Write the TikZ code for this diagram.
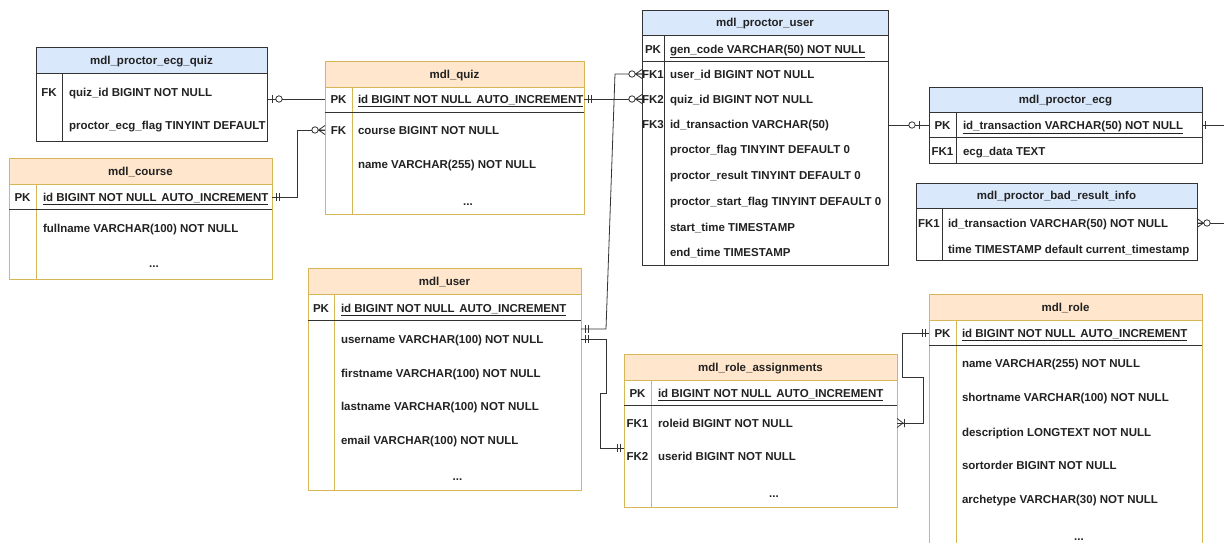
\documentclass[tikz,border=0pt]{standalone}
\usepackage{fontspec}
\setmainfont{Liberation Sans}
\definecolor{obd}{HTML}{D6B656}
\definecolor{ofill}{HTML}{FFE6CC}
\definecolor{bfill}{HTML}{DAE8FC}
\definecolor{bbd}{HTML}{333333}
\definecolor{ink}{HTML}{222222}
\definecolor{wire}{HTML}{333333}
\newcommand{\pkf}[1]{\underline{#1}}
\newcommand{\autoid}{\pkf{id BIGINT NOT NULL\hspace{0.4em}AUTO\_INCREMENT}}
\begin{document}
\begin{tikzpicture}[x=1pt,y=-1pt]
\tikzset{
  every node/.style={font=\fontsize{11.5}{13}\selectfont\bfseries, text=ink, inner sep=0pt, outer sep=0pt},
  txt/.style={text height=8.2pt, text depth=0pt},
  tblO/.style={draw=obd, fill=white, line width=0.9pt, anchor=north west},
  tblB/.style={draw=bbd, fill=white, line width=0.9pt, anchor=north west},
  hdrO/.style={txt, draw=obd, fill=ofill, line width=0.9pt, anchor=north west},
  hdrB/.style={txt, draw=bbd, fill=bfill, line width=0.9pt, anchor=north west},
  colO/.style={draw=obd, line width=0.9pt},
  colB/.style={draw=bbd, line width=0.9pt},
  pkline/.style={draw=bbd, line width=0.9pt},
  key/.style={txt, anchor=center},
  fld/.style={txt, anchor=west},
  conn/.style={draw=wire, line width=0.8pt},
  mk/.style={draw=wire, line width=0.8pt},
  pics/mandone/.style={code={\draw[mk] (4,-4)--(4,4) (7,-4)--(7,4);}},
  pics/single/.style={code={\draw[mk] (3.5,-4)--(3.5,4);}},
  pics/zeromany/.style={code={\draw[mk] (0,-4.5)--(6.5,0)--(0,4.5) (0,0)--(6.5,0);
      \draw[mk,fill=white] (10,0) circle[radius=3.2];}},
  pics/zeroone/.style={code={\draw[mk] (5,-4)--(5,4);
      \draw[mk,fill=white] (12,0) circle[radius=3.2];}},
  pics/zeroonefar/.style={code={\draw[mk] (10,-4)--(10,4);
      \draw[mk,fill=white] (17,0) circle[radius=3.2];}},
  pics/onemany/.style={code={\draw[mk] (0,-4.5)--(6,0)--(0,4.5) (7.5,-4)--(7.5,4);}},
}
\useasboundingbox (0,0) rectangle (1224,543);
\clip (0,0) rectangle (1224,543);
\fill[white] (0,0) rectangle (1224,543);

% ---------- mdl_proctor_ecg_quiz ----------
\node[tblB, minimum width=231pt, minimum height=94pt] (ecgq) at (36,47) {};
\node[hdrB, minimum width=231pt, minimum height=26pt] (ecgq-h) at (ecgq.north west) {mdl\_proctor\_ecg\_quiz};
\draw[colB] ([xshift=26pt]ecgq-h.south west) -- ([xshift=26pt]ecgq.south west);
\node[key] at (49,92) {FK};
\node[fld] (ecgq-quiz) at (69,92) {quiz\_id BIGINT NOT NULL};
\node[fld] (ecgq-flag) at (69,125) {proctor\_ecg\_flag TINYINT DEFAULT};

% ---------- mdl_course ----------
\node[tblO, minimum width=263pt, minimum height=121pt] (course) at (9,158) {};
\node[hdrO, minimum width=263pt, minimum height=26pt] (course-h) at (course.north west) {mdl\_course};
\draw[colO] ([xshift=27pt]course-h.south west) -- ([xshift=27pt]course.south west);
\draw[pkline] ([yshift=-25pt]course-h.south west) -- ([yshift=-25pt]course-h.south east);
\node[key] at (22.5,197) {PK};
\node[fld] (course-pk) at (43,197) {\autoid};
\node[fld] (course-name) at (43,228) {fullname VARCHAR(100) NOT NULL};
\node[key] at (154,263) {...};

% ---------- mdl_quiz ----------
\node[tblO, minimum width=259pt, minimum height=153pt] (quiz) at (325,61) {};
\node[hdrO, minimum width=259pt, minimum height=26pt] (quiz-h) at (quiz.north west) {mdl\_quiz};
\draw[colO] ([xshift=27pt]quiz-h.south west) -- ([xshift=27pt]quiz.south west);
\draw[pkline] ([yshift=-25pt]quiz-h.south west) -- ([yshift=-25pt]quiz-h.south east);
\node[key] at (338.5,99) {PK};
\node[fld] (quiz-pk) at (358,99) {\autoid};
\node[key] at (338.5,130) {FK};
\node[fld] (quiz-course) at (358,130) {course BIGINT NOT NULL};
\node[fld] (quiz-name) at (358,164) {name VARCHAR(255) NOT NULL};
\node[key] at (468,201) {...};

% ---------- mdl_proctor_user ----------
\node[tblB, minimum width=246pt, minimum height=255pt] (pu) at (642,10) {};
\node[hdrB, minimum width=246pt, minimum height=25pt] (pu-h) at (pu.north west) {mdl\_proctor\_user};
\draw[colB] ([xshift=22pt]pu-h.south west) -- ([xshift=22pt]pu.south west);
\draw[pkline] ([yshift=-26pt]pu-h.south west) -- ([yshift=-26pt]pu-h.south east);
\node[key] at (653,49) {PK};
\node[fld] (pu-pk) at (670,49) {\pkf{gen\_code VARCHAR(50) NOT NULL}};
\node[key] at (653,74) {FK1};
\node[fld] (pu-fk1) at (670,74) {user\_id BIGINT NOT NULL};
\node[key] at (653,99) {FK2};
\node[fld] (pu-fk2) at (670,99) {quiz\_id BIGINT NOT NULL};
\node[key] at (653,124) {FK3};
\node[fld] (pu-fk3) at (670,124) {id\_transaction VARCHAR(50)};
\node[fld] at (670,149) {proctor\_flag TINYINT DEFAULT 0};
\node[fld] at (670,175) {proctor\_result TINYINT DEFAULT 0};
\node[fld] at (670,201) {proctor\_start\_flag TINYINT DEFAULT 0};
\node[fld] at (670,227) {start\_time TIMESTAMP};
\node[fld] at (670,252) {end\_time TIMESTAMP};

% ---------- mdl_proctor_ecg ----------
\node[tblB, minimum width=273pt, minimum height=76pt] (pecg) at (929,87) {};
\node[hdrB, minimum width=273pt, minimum height=25pt] (pecg-h) at (pecg.north west) {mdl\_proctor\_ecg};
\draw[colB] ([xshift=27pt]pecg-h.south west) -- ([xshift=27pt]pecg.south west);
\draw[pkline] ([yshift=-25pt]pecg-h.south west) -- ([yshift=-25pt]pecg-h.south east);
\node[key] at (942.5,125) {PK};
\node[fld] (pecg-pk) at (963,125) {\pkf{id\_transaction VARCHAR(50) NOT NULL}};
\node[key] at (942.5,151) {FK1};
\node[fld] (pecg-data) at (963,151) {ecg\_data TEXT};

% ---------- mdl_proctor_bad_result_info ----------
\node[tblB, minimum width=281pt, minimum height=77pt] (bad) at (916,183) {};
\node[hdrB, minimum width=281pt, minimum height=25pt] (bad-h) at (bad.north west) {mdl\_proctor\_bad\_result\_info};
\draw[colB] ([xshift=26pt]bad-h.south west) -- ([xshift=26pt]bad.south west);
\node[key] at (929,223) {FK1};
\node[fld] (bad-fk1) at (948,223) {id\_transaction VARCHAR(50) NOT NULL};
\node[fld] (bad-time) at (948,249) {time TIMESTAMP default current\_timestamp};

% ---------- mdl_user ----------
\node[tblO, minimum width=273pt, minimum height=222pt] (user) at (308,268) {};
\node[hdrO, minimum width=273pt, minimum height=26pt] (user-h) at (user.north west) {mdl\_user};
\draw[colO] ([xshift=26pt]user-h.south west) -- ([xshift=26pt]user.south west);
\draw[pkline] ([yshift=-26pt]user-h.south west) -- ([yshift=-26pt]user-h.south east);
\node[key] at (321,308) {PK};
\node[fld] (user-pk) at (341,308) {\autoid};
\node[fld] (user-uname) at (341,339) {username VARCHAR(100) NOT NULL};
\node[fld] at (341,373) {firstname VARCHAR(100) NOT NULL};
\node[fld] at (341,406) {lastname VARCHAR(100) NOT NULL};
\node[fld] at (341,440) {email VARCHAR(100) NOT NULL};
\node[key] at (457.5,476) {...};

% ---------- mdl_role_assignments ----------
\node[tblO, minimum width=273pt, minimum height=153pt] (ra) at (624,354) {};
\node[hdrO, minimum width=273pt, minimum height=26pt] (ra-h) at (ra.north west) {mdl\_role\_assignments};
\draw[colO] ([xshift=27pt]ra-h.south west) -- ([xshift=27pt]ra.south west);
\draw[pkline] ([yshift=-25pt]ra-h.south west) -- ([yshift=-25pt]ra-h.south east);
\node[key] at (637.5,393) {PK};
\node[fld] (ra-pk) at (658,393) {\autoid};
\node[key] at (637.5,423) {FK1};
\node[fld] (ra-fk1) at (658,423) {roleid BIGINT NOT NULL};
\node[key] at (637.5,456) {FK2};
\node[fld] (ra-fk2) at (658,456) {userid BIGINT NOT NULL};
\node[key] at (774,493) {...};

% ---------- mdl_role ----------
\node[tblO, minimum width=273pt, minimum height=272pt] (role) at (929,294) {};
\node[hdrO, minimum width=273pt, minimum height=26pt] (role-h) at (role.north west) {mdl\_role};
\draw[colO] ([xshift=27pt]role-h.south west) -- ([xshift=27pt]role.south west);
\draw[pkline] ([yshift=-25pt]role-h.south west) -- ([yshift=-25pt]role-h.south east);
\node[key] at (942.5,333) {PK};
\node[fld] (role-pk) at (962,333) {\autoid};
\node[fld] at (962,363) {name VARCHAR(255) NOT NULL};
\node[fld] at (962,397) {shortname VARCHAR(100) NOT NULL};
\node[fld] at (962,432) {description LONGTEXT NOT NULL};
\node[fld] at (962,465) {sortorder BIGINT NOT NULL};
\node[fld] at (962,499) {archetype VARCHAR(30) NOT NULL};
\node[key] at (1079,536) {...};

% ---------- relationship lines ----------
\coordinate (u-hook) at ([yshift=10pt]user-uname.west);
\coordinate (ra-hook) at ([yshift=8pt]ra-fk2.west);
\coordinate (rim) at (1224,0);

\draw[conn] (ecgq.east |- quiz-pk) -- (quiz.west |- quiz-pk);
\draw[conn] (course.east |- course-pk) -- ++(25,0) |- (quiz.west |- quiz-course);
\draw[conn] (quiz.east |- quiz-pk) -- (pu.west |- pu-fk2);
\draw[conn] (pu.west |- pu-fk1) -- ++(-27,0) -- ++(-9,255) -- (user.east |- u-hook);
\draw[conn] (user.east |- user-uname) -- ++(25,0) -- ++(0,54) -- ++(-6,0) |- (ra.west |- ra-hook);
\draw[conn] (ra.east |- ra-fk1) -- ++(26,0) -- ++(0,-46) -- ++(-21,0) |- (role.west |- role-pk);
\draw[conn] (pu.east |- pecg-pk) -- (pecg.west |- pecg-pk);
\draw[conn] (pecg.east |- pecg-pk) -- (rim |- pecg-pk);
\draw[conn] (bad.east |- bad-fk1) -- (rim |- bad-fk1);

% ---------- cardinality marks ----------
\path (ecgq.east |- quiz-pk) pic{zeroone};
\path (course.east |- course-pk) pic{mandone};
\path (quiz.west |- quiz-course) pic[rotate=180]{zeromany};
\path (quiz.east |- quiz-pk) pic{mandone};
\path (pu.west |- pu-fk2) pic[rotate=180]{zeromany};
\path (pu.west |- pu-fk1) pic[rotate=180]{zeromany};
\path (user.east |- u-hook) pic{mandone};
\path (user.east |- user-uname) pic{mandone};
\path (ra.west |- ra-hook) pic[rotate=180]{mandone};
\path (ra.east |- ra-fk1) pic{onemany};
\path (role.west |- role-pk) pic[rotate=180]{mandone};
\path (pecg.west |- pecg-pk) pic[rotate=180]{zeroonefar};
\path (pecg.east |- pecg-pk) pic{single};
\path (bad.east |- bad-fk1) pic{zeromany};
\end{tikzpicture}
\end{document}
